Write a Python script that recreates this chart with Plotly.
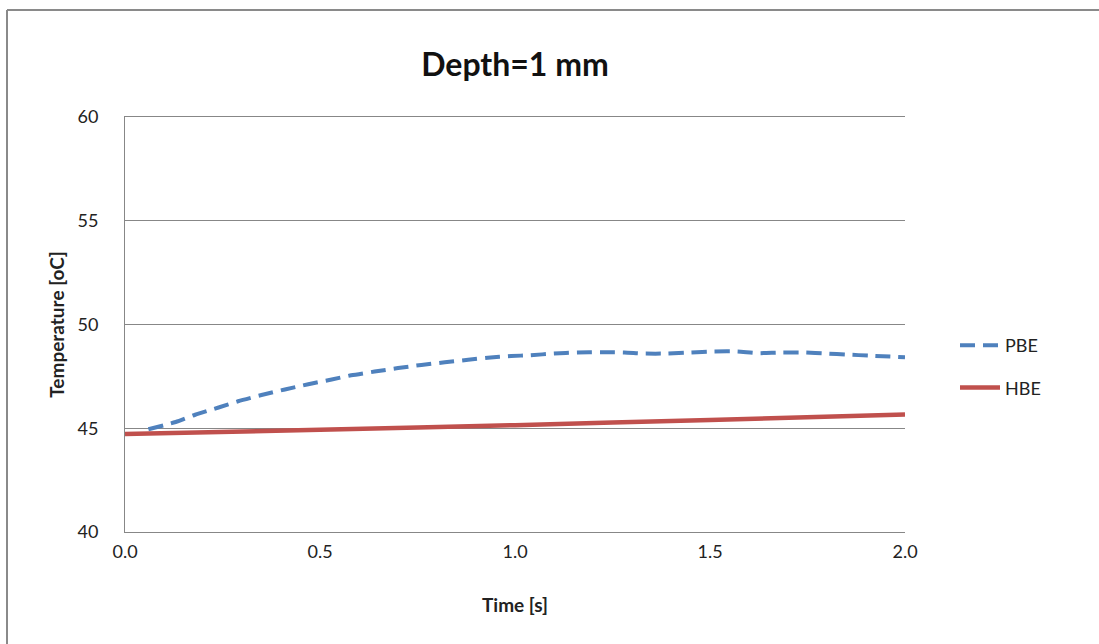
import plotly.graph_objects as go

# Time samples [s] and temperatures [oC]
pbe_time = [0.06, 0.13, 0.18, 0.24, 0.29, 0.35, 0.41, 0.47, 0.53, 0.58, 0.64, 0.70,
            0.76, 0.82, 0.88, 0.93, 0.99, 1.04, 1.10, 1.16, 1.22, 1.28, 1.33, 1.39,
            1.45, 1.51, 1.57, 1.62, 1.68, 1.74, 1.80, 1.85, 1.91, 2.00]
pbe_temp = [44.95, 45.3, 45.65, 46.0, 46.3, 46.6, 46.87, 47.12, 47.35, 47.55, 47.73, 47.9,
            48.05, 48.18, 48.3, 48.4, 48.48, 48.52, 48.6, 48.65, 48.66, 48.65, 48.6, 48.6,
            48.65, 48.7, 48.7, 48.62, 48.65, 48.65, 48.6, 48.55, 48.5, 48.42]

hbe_time = [0.0, 0.5, 1.0, 1.5, 2.0]
hbe_temp = [44.72, 44.93, 45.15, 45.4, 45.66]

x_ticks = [0.0, 0.5, 1.0, 1.5, 2.0]
y_ticks = [40, 45, 50, 55, 60]

FONT = "Lato"
GRID = "#878787"

fig = go.Figure()
fig.add_trace(go.Scatter(
    x=pbe_time, y=pbe_temp, mode="lines", name="PBE", legendgroup="pbe",
    line=dict(color="#4F81BD", width=4, dash="15px,8px", shape="spline", smoothing=0.6),
))
fig.add_trace(go.Scatter(
    x=hbe_time, y=hbe_temp, mode="lines", name="HBE", legendgroup="hbe",
    line=dict(color="#C0504D", width=4.5, shape="spline", smoothing=0.6),
))

W, H = 1099, 644
L, R, T, B = 125, 905, 117, 532

fig.update_layout(
    width=W, height=H,
    margin=dict(l=L, r=W - R, t=T, b=H - B, autoexpand=False),
    paper_bgcolor="white", plot_bgcolor="white",
    font=dict(family=FONT, color="#222", size=18),
    title=dict(text="<b>Depth=1 mm</b>", x=(L + R) / 2 / W, xanchor="center",
               y=1 - 65 / H, yanchor="middle", font=dict(size=32, color="#111", family=FONT)),
    xaxis=dict(range=[0, 2], tickvals=x_ticks, ticktext=[f"{v:.1f}" for v in x_ticks],
               showgrid=False, showline=True, linecolor=GRID, linewidth=1, mirror=True,
               ticks="", zeroline=False, tickfont=dict(size=18), ticklabelstandoff=3,
               title=dict(text="<b>Time [s]</b>", font=dict(size=19), standoff=38)),
    yaxis=dict(range=[40, 60], tickvals=y_ticks, showgrid=True, gridcolor=GRID, gridwidth=1,
               showline=True, linecolor=GRID, linewidth=1, ticks="", zeroline=False,
               tickfont=dict(size=18), ticklabelstandoff=22,
               title=dict(text="<b>Temperature [oC]</b>", font=dict(size=19), standoff=7)),
    legend=dict(x=(955 - L) / (R - L), y=(B - 327) / (B - T), xanchor="left", yanchor="top",
                font=dict(size=18), itemwidth=40, tracegroupgap=16,
                bgcolor="rgba(0,0,0,0)", traceorder="grouped"),
    showlegend=True,
)

# outer chart frame (top and left edges)
fx0 = (7 - L) / (R - L)
fy0 = (B - 10) / (B - T)
fig.add_shape(type="line", xref="paper", yref="paper", x0=fx0, x1=(W - L) / (R - L) + 0.1,
              y0=fy0, y1=fy0, line=dict(color="#8a8a8a", width=2))
fig.add_shape(type="line", xref="paper", yref="paper", x0=fx0, x1=fx0,
              y0=fy0, y1=-(H - B) / (B - T) - 0.1, line=dict(color="#8a8a8a", width=2))

fig.write_html("out.html")
